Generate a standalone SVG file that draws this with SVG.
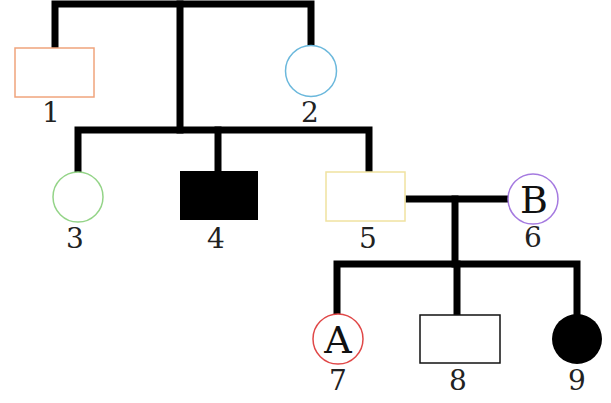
<svg xmlns="http://www.w3.org/2000/svg" width="611" height="403" viewBox="0 0 611 403">
<style>
.ln{stroke:#000;stroke-width:7;fill:none;stroke-linecap:square}
.lb{font-family:"DejaVu Serif",serif;font-size:28px;fill:#222;text-anchor:middle}
.in{font-family:"DejaVu Serif",serif;font-size:38px;fill:#111;text-anchor:middle}
</style>
<rect width="611" height="403" fill="#fff"/>
<g id="connectors" class="ln">
<path d="M55,48 V4 H311 V46"/>
<path d="M180,4 V130"/>
<path d="M78,172 V130 H369 V172"/>
<path d="M218,171 V130"/>
<path d="M409,199 H507"/>
<path d="M455,199 V264"/>
<path d="M337,314 V264 H577 V314"/>
<path d="M457,315 V264"/>
</g>
<g id="n1"><rect x="15" y="48" width="79" height="49" fill="#fff" stroke="#f0a47c" stroke-width="1.5"/><text class="lb" x="51" y="122">1</text></g>
<g id="n2"><circle cx="311" cy="71" r="25.5" fill="#fff" stroke="#6bb8dc" stroke-width="1.5"/><text class="lb" x="310" y="122">2</text></g>
<g id="n3"><circle cx="78" cy="197" r="25" fill="#fff" stroke="#94d488" stroke-width="1.5"/><text class="lb" x="75" y="248">3</text></g>
<g id="n4"><rect x="180" y="171" width="78" height="49" fill="#000"/><text class="lb" x="216" y="248">4</text></g>
<g id="n5"><rect x="326" y="172" width="79" height="49" fill="#fff" stroke="#f0e2a0" stroke-width="1.5"/><text class="lb" x="368" y="248">5</text></g>
<g id="n6"><circle cx="533" cy="199" r="25" fill="#fff" stroke="#a57ae0" stroke-width="1.5"/><text class="in" x="534" y="213">B</text><text class="lb" x="533" y="247">6</text></g>
<g id="n7"><circle cx="338" cy="339" r="25" fill="#fff" stroke="#e04848" stroke-width="1.5"/><text class="in" x="338" y="353">A</text><text class="lb" x="338" y="390">7</text></g>
<g id="n8"><rect x="420" y="315" width="80" height="48" fill="#fff" stroke="#111" stroke-width="1.5"/><text class="lb" x="458" y="390">8</text></g>
<g id="n9"><circle cx="577" cy="339" r="25" fill="#000"/><text class="lb" x="577" y="390">9</text></g>
</svg>
